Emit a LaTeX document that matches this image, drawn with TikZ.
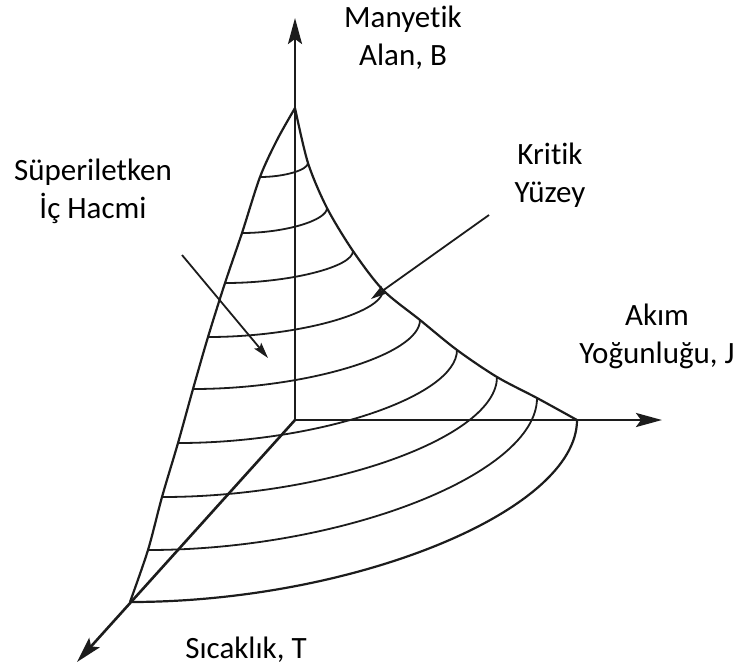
\documentclass[tikz,border=0pt]{standalone}
\usepackage{fontspec}
\setmainfont[Ligatures=NoCommon]{Carlito}
\usepackage{tikz}
\usetikzlibrary{arrows.meta,calc}
\definecolor{cizgi}{HTML}{1C1C1C}

\begin{document}
\begin{tikzpicture}[
			x=0.5pt,y=-0.5pt,
			eksen/.style={-{Stealth[length=13pt,width=7pt,inset=2.5pt]},line width=1.3pt,cizgi},
			kenar/.style={line width=1.1pt,cizgi},
			tarama/.style={line width=0.9pt,cizgi},
			isaret/.style={-{Stealth[length=8pt,width=4.5pt,inset=1.5pt]},line width=0.9pt,cizgi},
			etiket/.style={align=center,inner sep=0pt,font=\fontsize{15.5}{19}\selectfont}
			]
			\useasboundingbox (0,0) rectangle (739,666);
			% eksenler
			\coordinate (O) at (295,420);
			\coordinate (Buc) at (295,18);
			\coordinate (Juc) at (662,420);
			\coordinate (Tuc) at (77,662);
			% kritik yuzeyin kenarlari
			\foreach \i/\x/\y in {0/295/108,1/260/177,2/242/233,3/225/283,4/208/337,5/193/389,6/178/443,7/162/497,8/148/550,9/130/602}
				\coordinate (sol\i) at (\x,\y);
			\foreach \i/\x/\y in {0/295/108,1/308/163,2/327/208,3/353/251,4/383/290,5/420/320,6/457/350,7/497/377,8/537/398,9/577/420}
				\coordinate (sag\i) at (\x,\y);
			\draw[eksen] (O)--(Buc);
			\draw[eksen] (O)--(Juc);
			\draw[eksen] (O)--(Tuc);
			\draw[kenar] plot[smooth] coordinates {(sol0) (277,140) (sol1) (sol2) (sol3) (sol4) (sol5) (sol6) (sol7) (sol8) (sol9)};
			\draw[kenar] plot[smooth] coordinates {(sag0) (sag1) (sag2) (sag3) (sag4) (sag5) (sag6) (sag7) (sag8) (sag9)};
			\foreach \i in {1,...,8}
				\draw[tarama] (sol\i) .. controls ($(sol\i)!0.5!(sol\i -| sag\i)$) and ($(sag\i)!0.5!(sol\i -| sag\i)$) .. (sag\i);
			\draw[kenar] (sol9) .. controls ($(sol9)!0.5!(sol9 -| sag9)$) and ($(sag9)!0.5!(sol9 -| sag9)$) .. (sag9);
			% etiketler
			\node[etiket] (manyetik) at (403,38) {Manyetik\\Alan, B};
			\node[etiket] (hacim) at (93,191) {Süperiletken\\İç Hacmi};
			\node[etiket] (kritik) at (550,175) {Kritik\\Yüzey};
			\node[etiket] (akim) at (657,336) {Akım\\Yoğunluğu, J};
			\node[etiket,anchor=base] (sicaklik) at (246,658) {Sıcaklık, T};
			% isaret oklari
			\coordinate (kritikk) at (489,215);
			\coordinate (kritiku) at (371,299);
			\coordinate (hacimk) at (182,255);
			\coordinate (hacimu) at (268,358);
			\draw[isaret] (kritikk)--(kritiku);
			\draw[isaret] (hacimk)--(hacimu);
		\end{tikzpicture}
\end{document}
